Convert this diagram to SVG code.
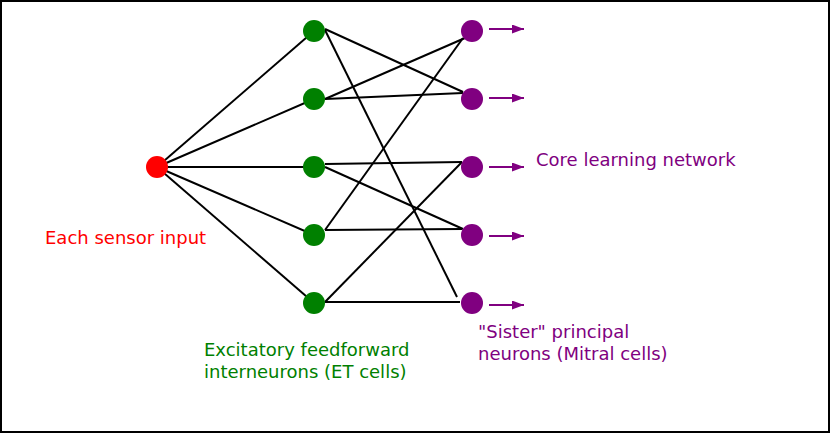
<svg xmlns="http://www.w3.org/2000/svg" width="830" height="433" viewBox="0 0 830 433">
<style>
.w{stroke:#000;stroke-width:2;fill:none}
.a{stroke:#800080;stroke-width:2;fill:none}
.t{font-family:"DejaVu Sans",sans-serif;font-size:18px}
</style>
<defs>
<marker id="ah" viewBox="0 0 12 9" refX="12" refY="4.5" markerWidth="12" markerHeight="9" markerUnits="userSpaceOnUse" orient="auto">
<path d="M0,0 L12,4.5 L0,9 Z" fill="#800080"/>
</marker>
</defs>
<rect x="1" y="1" width="828" height="431" fill="#fff" stroke="#000" stroke-width="2"/>
<g id="connectors">
<line class="w" x1="157" y1="167" x2="314" y2="31"/>
<line class="w" x1="157" y1="167" x2="314" y2="99"/>
<line class="w" x1="157" y1="167" x2="314" y2="167"/>
<line class="w" x1="157" y1="167" x2="314" y2="235"/>
<line class="w" x1="157" y1="167" x2="314" y2="303"/>
<line class="w" x1="325" y1="29" x2="463" y2="92"/>
<line class="w" x1="325" y1="30" x2="457" y2="297"/>
<line class="w" x1="325" y1="99" x2="465" y2="38"/>
<line class="w" x1="325" y1="99" x2="463" y2="93"/>
<line class="w" x1="325" y1="164" x2="462" y2="162"/>
<line class="w" x1="325" y1="167" x2="463" y2="229"/>
<line class="w" x1="325" y1="230" x2="463" y2="38"/>
<line class="w" x1="325" y1="230" x2="462" y2="229"/>
<line class="w" x1="325" y1="302" x2="462" y2="162"/>
<line class="w" x1="325" y1="302" x2="460" y2="302"/>
<line class="a" x1="489" y1="29" x2="524" y2="29" marker-end="url(#ah)"/>
<line class="a" x1="489" y1="98" x2="524" y2="98" marker-end="url(#ah)"/>
<line class="a" x1="489" y1="167" x2="524" y2="167" marker-end="url(#ah)"/>
<line class="a" x1="489" y1="236" x2="524" y2="236" marker-end="url(#ah)"/>
<line class="a" x1="489" y1="305" x2="524" y2="305" marker-end="url(#ah)"/>
</g>
<g id="input"><circle cx="157" cy="167" r="11" fill="#ff0000"/></g>
<g id="et1"><circle cx="314" cy="31" r="11" fill="#008000"/></g>
<g id="et2"><circle cx="314" cy="99" r="11" fill="#008000"/></g>
<g id="et3"><circle cx="314" cy="167" r="11" fill="#008000"/></g>
<g id="et4"><circle cx="314" cy="235" r="11" fill="#008000"/></g>
<g id="et5"><circle cx="314" cy="303" r="11" fill="#008000"/></g>
<g id="m1"><circle cx="472" cy="31" r="11" fill="#800080"/></g>
<g id="m2"><circle cx="472" cy="99" r="11" fill="#800080"/></g>
<g id="m3"><circle cx="472" cy="167" r="11" fill="#800080"/></g>
<g id="m4"><circle cx="472" cy="235" r="11" fill="#800080"/></g>
<g id="m5"><circle cx="472" cy="303" r="11" fill="#800080"/></g>
<g id="labels">
<text class="t" x="45" y="244" fill="#ff0000">Each sensor input</text>
<text class="t" x="536" y="166" fill="#800080">Core learning network</text>
<text class="t" x="204" y="356" fill="#008000">Excitatory feedforward</text>
<text class="t" x="204" y="378" fill="#008000">interneurons (ET cells)</text>
<text class="t" x="478" y="338" fill="#800080">"Sister" principal</text>
<text class="t" x="478" y="360" fill="#800080">neurons (Mitral cells)</text>
</g>
</svg>
